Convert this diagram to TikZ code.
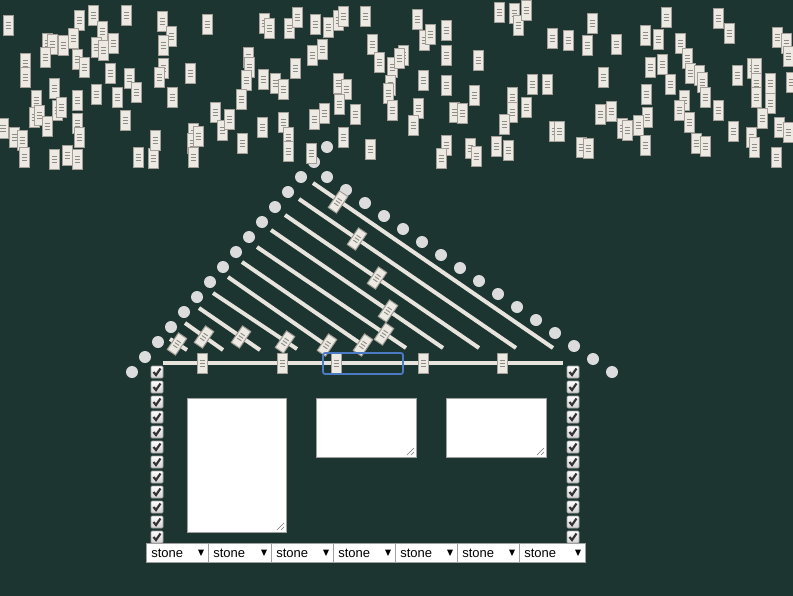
\documentclass[tikz,border=0pt]{standalone}
\usepackage{fontspec}
\setmainfont{Liberation Sans}
\definecolor{bg}{HTML}{1D3531}
\definecolor{thumbfill}{HTML}{EDEAE4}
\definecolor{thumbdraw}{HTML}{A39F98}
\definecolor{gripc}{HTML}{8E8A84}
\definecolor{rail}{HTML}{E6E4DD}
\definecolor{dotc}{HTML}{DCDCDC}
\definecolor{focusc}{HTML}{4A7BC4}
\definecolor{boxdraw}{HTML}{A0A0A0}
\definecolor{checkc}{HTML}{333333}
\tikzset{
  thumb/.pic={
    \draw[fill=thumbfill,draw=thumbdraw,line width=0.75pt] (-5,-10) rectangle (5,10);
    \foreach \d in {-3,0,3} \draw[gripc,line width=0.7pt] (-2.5,\d) -- (2.5,\d);
  },
  railline/.style={rail,line width=3pt},
  roofdot/.style={fill=dotc},
  cbox/.style={draw=boxdraw,line width=0.6pt,top color=white,bottom color=black!18,rounded corners=0.8pt},
  checkmark/.style={checkc,line width=1.6pt},
  tarea/.style={fill=white,draw=boxdraw,line width=0.75pt},
  tgrip/.style={black!55,line width=0.5pt},
  selbox/.style={fill=white,draw=boxdraw,line width=0.75pt},
  seltext/.style={inner sep=0pt,anchor=base west,font=\fontsize{9.75pt}{11pt}\selectfont,text=black},
  focusbox/.style={draw=focusc,line width=1.3pt,rounded corners=1.5pt},
}
\begin{document}
\begin{tikzpicture}[x=0.75pt,y=-0.75pt]
\fill[bg] (0,0) rectangle (793,596);
\useasboundingbox (0,0) rectangle (793,596);

% rafters
\foreach \xa/\ya/\xb/\yb in {313/183/553/348,299/199/516/348,285/215/479/348,271/230/443/348,257/247/406/348,242/262/367/348,228/277/330/348,213/293/297/349,199/308/260/350,185/323/223/350,170/339/187/350}
  \draw[railline] (\xa,\ya) -- (\xb,\yb);

% beam
\coordinate (beamL) at (163,363);
\coordinate (beamR) at (563,363);
\draw[railline] (beamL) -- (beamR);

% roof dots
\foreach \k in {0,...,15} {
  \fill[roofdot] ({132+13*\k},{372-15*\k}) circle (6);
  \fill[roofdot] ({327+19*\k},{177+13*\k}) circle (6);
}

% rafter thumbs
\foreach \x/\y in {338/202,357/239,377/278,388/311,384/334,363/345,327/345,285/342,241/337,204/337,177/344}
  \pic[rotate=-34.3] at (\x,\y) {thumb};

% beam thumbs
\foreach \x in {202,282,336,423,502}
  \pic at (\x,363) {thumb};
\draw[focusbox] (323,353) rectangle (403,374);

% scattered thumbs
\foreach \x/\y in {8/25,79/20,93/15,126/15,162/21,171/36,163/45,47/43,52/44,63/45,73/38,45/57,77/59,84/67,102/31,96/47,103/50,113/43,25/63,25/77,110/73,129/78,136/92,117/97,163/68,159/77,172/97,190/73,54/88,36/100,57/110,61/107,77/100,96/94,34/117,39/115,47/126,77/123,79/137,125/120,3/128,14/137,22/140,24/157,54/159,67/155,77/159,138/157,153/158,155/140,193/133,192/143,193/157}
  \pic at (\x,\y) {thumb};
\foreach \x/\y in {207/24,264/23,269/28,289/28,297/17,315/24,328/27,338/20,343/16,365/16,248/57,249/67,295/68,312/55,322/49,372/44,379/62,392/67,246/80,263/79,275/83,283/89,338/83,346/89,390/85,388/93,241/99,215/112,222/130,229/119,339/104,355/114,314/119,324/113,392/110,262/127,283/122,288/137,288/151,242/143,311/153,343/137,370/149,198/136}
  \pic at (\x,\y) {thumb};
\foreach \x/\y in {417/19,424/40,430/34,446/30,499/12,514/13,518/25,526/10,552/38,568/40,587/45,592/23,403/55,399/58,446/55,478/60,423/80,446/85,474/95,532/84,547/84,512/97,526/107,512/112,504/124,418/108,413/125,454/112,462/113,554/131,559/131,446/145,441/158,470/148,476/156,496/146,508/150,581/147,588/148}
  \pic at (\x,\y) {thumb};
\foreach \x/\y in {666/17,718/18,729/33,645/35,658/39,616/44,680/43,687/58,777/37,786/43,788/56,650/67,662/64,690/73,699/75,702/82,752/68,756/68,737/75,770/83,756/83,791/82,603/77,670/84,646/94,705/97,756/97,770/103,647/117,684/100,679/110,689/122,718/110,600/114,611/111,622/128,627/130,638/125,733/131,762/118,779/127,788/132,751/137,754/147,696/143,705/146,645/145,776/157}
  \pic at (\x,\y) {thumb};

% checkboxes
\foreach \k in {0,...,11} {
  \foreach \cx in {157,573} {
    \path[cbox] ({\cx-6},{372+15*\k-6}) rectangle ({\cx+6},{372+15*\k+6});
    \draw[checkmark] ({\cx-3.5},{372+15*\k}) -- ({\cx-1},{372+15*\k+3}) -- ({\cx+3.5},{372+15*\k-3.5});
  }
}

% textareas
\foreach \xa/\ya/\xb/\yb in {187/398/286/532,316/398/416/457,446/398/546/457} {
  \draw[tarea] (\xa,\ya) rectangle (\xb,\yb);
  \draw[tgrip] ({\xb-2},{\yb-9}) -- ({\xb-9},{\yb-2});
  \draw[tgrip] ({\xb-2},{\yb-5}) -- ({\xb-5},{\yb-2});
}

% selects
\foreach \i/\xa/\xb in {1/146/208,2/208/271,3/271/333,4/333/395,5/395/457,6/457/519,7/519/585} {
  \draw[selbox] (\xa,543) rectangle (\xb,562);
  \node[seltext] (s\i) at ({\xa+5},557) {stone};
  \fill[black] ({\xb-10},549.5) -- ({\xb-4},549.5) -- ({\xb-7},556) -- cycle;
}
\end{tikzpicture}
\end{document}
